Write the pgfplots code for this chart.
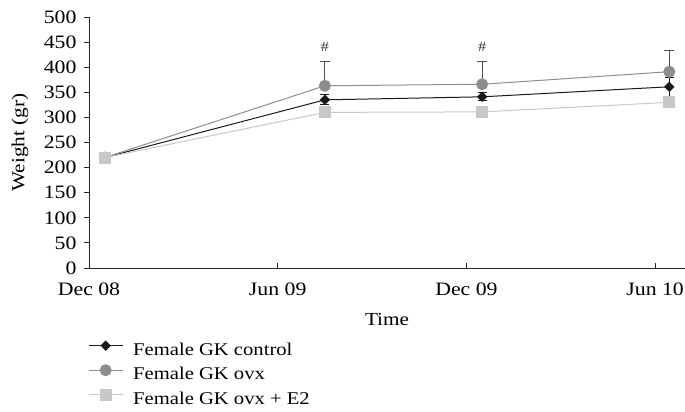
\documentclass[border=0pt]{standalone}
\usepackage{fontspec}
\setmainfont[FakeStretch=1.15]{Liberation Serif}
\usepackage{pgfplots}
\pgfplotsset{compat=1.18}
\definecolor{cctrl}{HTML}{1A1A1A}
\definecolor{covx}{HTML}{8E8E8E}
\definecolor{ce2}{HTML}{C8C8C8}
\definecolor{cerr}{HTML}{505050}
\begin{document}
\begin{tikzpicture}
\begin{axis}[
  scale only axis,
  width=596bp, height=251bp,
  axis x line*=bottom, axis y line*=left,
  axis line style={line width=0.9bp, black!85},
  xmin=0, xmax=18.95, ymin=0, ymax=500,
  xtick={0,6,12,18}, xticklabels={Dec 08, Jun 09, Dec 09, Jun 10},
  ytick={0,50,...,500},
  minor tick num=0,
  tick align=outside,
  major tick length=5bp,
  tick style={line width=0.9bp, black!85},
  xtick style={yshift=5bp},
  /pgf/number format/assume math mode=true,
  font=\fontsize{18}{21}\selectfont,
  tick label style={font=\fontsize{19}{22}\selectfont},
  xticklabel style={yshift=-6bp},
  yticklabel style={xshift=-4bp},
  xlabel={Time}, ylabel={Weight (gr)},
  every axis x label/.style={at={(axis description cs:0.5,0)}, anchor=base, yshift=-57bp, font=\fontsize{18.5}{21}\selectfont},
  every axis y label/.style={at={(axis description cs:-0.1158,0.5)}, anchor=center, rotate=90, font=\fontsize{18.5}{21}\selectfont},
  clip=false,
  legend style={at={(axis description cs:0,0)}, anchor=north west, xshift=-1bp, yshift=-73bp,
    draw=none, fill=none, inner sep=0pt, row sep=9.5bp, column sep=10bp,
    font=\fontsize{18}{21}\selectfont,
    nodes={inner sep=0pt, text height=12bp, text depth=0bp}},
  legend cell align=left,
  legend image code/.code={\draw[mark repeat=2,mark phase=2] plot coordinates {(0bp,3.5bp)(17bp,3.5bp)(34bp,3.5bp)};},
]
% Female GK control
\addplot[color=cctrl, line width=1bp, mark=diamond*, mark size=4.5bp,
  mark options={fill=cctrl, draw=cctrl, xscale=1.33, solid},
  error bars/.cd, y dir=both, y explicit,
  error mark options={rotate=90, mark size=4.5bp, line width=0.9bp, color=cctrl},
  error bar style={line width=0.9bp, color=cctrl}]
  coordinates {(0.5,220) +- (0,0) (7.5,335) +- (0,10) (12.5,341) +- (0,8) (18.45,361) +- (0,19)};
\addlegendentry{Female GK control}
% Female GK ovx
\addplot[color=covx, line width=1bp, mark=*, mark size=5.5bp,
  mark options={fill=covx, draw=covx, solid},
  error bars/.cd, y dir=plus, y explicit,
  error mark options={rotate=90, mark size=5bp, line width=1bp, color=cerr},
  error bar style={line width=1bp, color=cerr}]
  coordinates {(0.5,220) +- (0,0) (7.5,363) +- (0,49) (12.5,366) +- (0,46) (18.45,391) +- (0,43)};
\addlegendentry{Female GK ovx}
% Female GK ovx + E2
\addplot[color=ce2, line width=1bp, mark=square*, mark size=5.5bp,
  mark options={fill=ce2, draw=ce2, solid}]
  coordinates {(0.5,220) (7.5,310) (12.5,311) (18.45,330)};
\addlegendentry{Female GK ovx + E2}
\node[font=\fontsize{14}{16}\selectfont, color=black!80] at (axis cs:7.5,440) {\#};
\node[font=\fontsize{14}{16}\selectfont, color=black!80] at (axis cs:12.5,440) {\#};
\end{axis}
\pgfresetboundingbox
\path[use as bounding box] (-89bp,-144bp) rectangle (596bp,268bp);
\end{tikzpicture}
\end{document}
